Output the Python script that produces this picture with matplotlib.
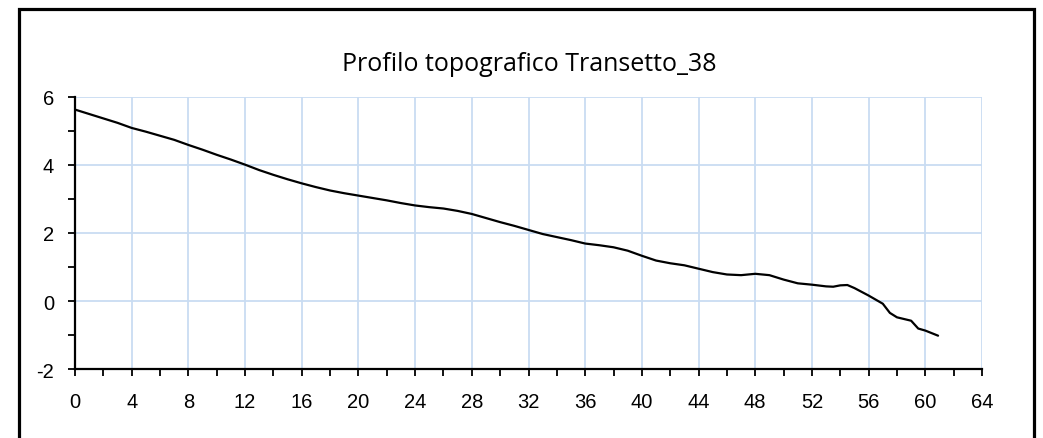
import matplotlib
matplotlib.use("Agg")
import matplotlib.pyplot as plt
from matplotlib.patches import Rectangle

# distance along the transect (m) and elevation (m)
distanza = [0, 1, 2, 3, 4, 5, 6, 7, 8, 9, 10, 11, 12, 13, 14, 15, 16, 17, 18, 19,
            20, 21, 22, 23, 24, 25, 26, 27, 28, 29, 30, 31, 32, 33, 34, 35, 36, 37, 38, 39,
            40, 41, 42, 43, 44, 45, 46, 47, 48, 49, 50, 51, 52, 53, 53.5, 54, 54.5, 55,
            56, 57, 57.5, 58, 59, 59.5, 60, 60.9]
quota = [5.63, 5.50, 5.37, 5.24, 5.09, 4.98, 4.86, 4.74, 4.59, 4.45, 4.30, 4.16, 4.01, 3.85,
         3.71, 3.58, 3.46, 3.35, 3.25, 3.17, 3.10, 3.03, 2.96, 2.88, 2.81, 2.76, 2.72, 2.65,
         2.56, 2.44, 2.32, 2.21, 2.09, 1.97, 1.88, 1.79, 1.69, 1.64, 1.58, 1.48,
         1.33, 1.19, 1.11, 1.05, 0.95, 0.85, 0.78, 0.76, 0.80, 0.76, 0.63, 0.52, 0.48, 0.43,
         0.42, 0.46, 0.47, 0.38, 0.16, -0.08, -0.35, -0.48, -0.58, -0.81, -0.87, -1.02]

titolo = "Profilo topografico Transetto_38"

plt.rcParams["font.family"] = ["Liberation Sans", "DejaVu Sans"]
plt.rcParams["axes.unicode_minus"] = False

fig = plt.figure(figsize=(10.43, 4.39), dpi=100)
ax = fig.add_axes([75 / 1043, 1 - 370 / 439, 907 / 1043, 272 / 439])

# outer border of the chart area (bottom edge is outside the picture)
fig.patches.append(Rectangle((19 / 1043, -0.05), 1015 / 1043, 1.05 - 10 / 439,
                             transform=fig.transFigure, fill=False,
                             edgecolor="black", linewidth=2.3))

ax.plot(distanza, quota, color="black", linewidth=1.6,
        solid_joinstyle="round", solid_capstyle="round")

ax.set_xlim(0, 64)
ax.set_ylim(-2, 6)
ax.set_xticks(range(0, 65, 4))
ax.set_xticks(range(0, 65, 2), minor=True)
ax.set_yticks(range(-2, 7, 2))
ax.set_yticks(range(-2, 7, 1), minor=True)

ax.grid(True, which="major", color="#c9dcf2", linewidth=1.3)
ax.set_axisbelow(True)

for s in ["top", "right"]:
    ax.spines[s].set_visible(False)
for s in ["left", "bottom"]:
    ax.spines[s].set_linewidth(1.6)

ax.tick_params(which="both", direction="out", length=5, width=1.3, color="black")
ax.tick_params(axis="y", which="major", pad=10, labelsize=14.5)
ax.tick_params(axis="x", which="major", pad=11.5, labelsize=14.5)

fig.text(529 / 1043, 1 - 70.7 / 439, titolo, ha="center", va="baseline",
         fontsize=18, family=["Open Sans", "DejaVu Sans"])

fig.savefig("out.png", dpi=100)
